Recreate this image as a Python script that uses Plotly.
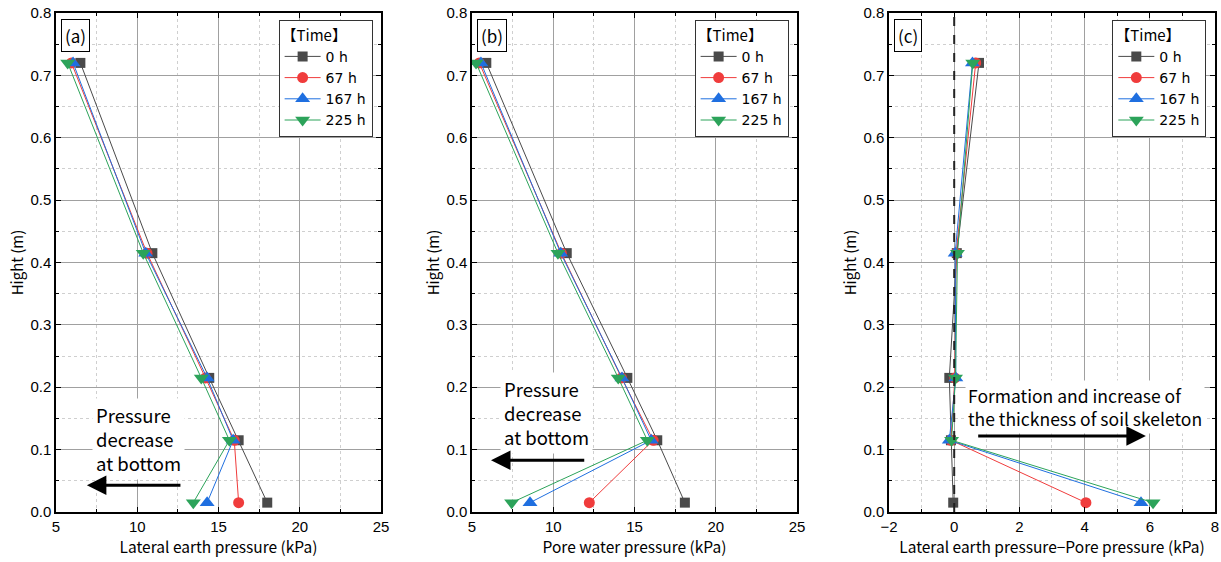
import plotly.graph_objects as go

# Sensor heights (m)
height = [0.72, 0.415, 0.215, 0.115, 0.015]
times = ["0 h", "67 h", "167 h", "225 h"]

# (a) Lateral earth pressure (kPa)
lateral_0h = [6.5, 10.93, 14.43, 16.24, 18.0]
lateral_67h = [5.95, 10.6, 14.2, 15.97, 16.24]
lateral_167h = [6.05, 10.52, 14.3, 15.9, 14.3]
lateral_225h = [5.72, 10.37, 13.94, 15.67, 13.45]

# (b) Pore water pressure (kPa)
pore_0h = [5.88, 10.83, 14.56, 16.4, 18.1]
pore_67h = [5.45, 10.5, 14.2, 16.15, 12.22]
pore_167h = [5.55, 10.46, 14.23, 16.03, 8.57]
pore_225h = [5.25, 10.29, 14.0, 15.79, 7.44]

# (c) Lateral earth pressure minus pore pressure (kPa)
diff_0h = [0.76, 0.08, -0.15, -0.1, -0.03]
diff_67h = [0.66, 0.06, 0.02, -0.1, 4.04]
diff_167h = [0.56, 0.03, 0.05, -0.15, 5.73]
diff_225h = [0.57, 0.1, 0.04, -0.08, 6.1]

colors = ["#4a4a4a", "#f03c3c", "#1f6fe0", "#2ca35a"]
symbols = ["square", "circle", "triangle-up", "triangle-down"]
msizes = [10, 11, 13, 13]

panels = [
    ("x", "y", "legend", [lateral_0h, lateral_67h, lateral_167h, lateral_225h]),
    ("x2", "y2", "legend2", [pore_0h, pore_67h, pore_167h, pore_225h]),
    ("x3", "y3", "legend3", [diff_0h, diff_67h, diff_167h, diff_225h]),
]

TXT = "Noto Sans CJK JP"
NUM = "Liberation Sans"

fig = go.Figure()
for xa, ya, lg, series in panels:
    for name, vals, c, s, ms in zip(times, series, colors, symbols, msizes):
        fig.add_trace(go.Scatter(
            x=vals, y=height, xaxis=xa, yaxis=ya, name=name, legend=lg,
            mode="lines+markers",
            line=dict(color=c, width=1),
            marker=dict(color=c, symbol=s, size=ms),
        ))

domains = [(0.04586, 0.31204), (0.38657, 0.65274), (0.72809, 0.99509)]
xranges = [(5, 25), (5, 25), (-2, 8)]
xdticks = [5, 5, 2]
xtitles = ["Lateral earth pressure (kPa)", "Pore water pressure (kPa)",
           "Lateral earth pressure\u2212Pore pressure (kPa)"]
ydom = (0.08897, 0.97687)

axis_common = dict(
    showline=True, linecolor="black", linewidth=1.5, mirror="ticks",
    ticks="inside", ticklen=5, tickcolor="black", automargin=False,
    showgrid=True, gridcolor="#a0a0a0", gridwidth=1, zeroline=False,
    tickfont=dict(family=NUM, size=15, color="black"),
)

layout = dict(
    width=1221, height=562, margin=dict(l=0, r=0, t=0, b=0),
    plot_bgcolor="white", paper_bgcolor="white", showlegend=True,
)
for i in range(3):
    sx = "" if i == 0 else str(i + 1)
    layout["xaxis" + sx] = dict(
        axis_common, domain=list(domains[i]), range=list(xranges[i]),
        dtick=xdticks[i], anchor="y" + sx,
        minor=dict(dtick=xdticks[i] / 2, showgrid=True, griddash="dot",
                   gridcolor="#cfcfcf", ticks="inside", ticklen=3, tickcolor="black"),
        title=dict(text=xtitles[i], font=dict(family=TXT, size=15.5, color="black"),
                   standoff=8),
    )
    layout["yaxis" + sx] = dict(
        axis_common, domain=list(ydom), range=[0, 0.8], dtick=0.1,
        tickformat=".1f", anchor="x" + sx,
        minor=dict(dtick=0.05, showgrid=True, griddash="dot",
                   gridcolor="#cfcfcf", ticks="inside", ticklen=3, tickcolor="black"),
        title=dict(text="Hight (m)", font=dict(family=TXT, size=15, color="black"),
                   standoff=3),
    )
    lg = "legend" if i == 0 else "legend" + str(i + 1)
    layout[lg] = dict(
        x=domains[i][0] + (domains[i][1] - domains[i][0]) * 0.685,
        y=ydom[1] - 0.013, xanchor="left", yanchor="top",
        bgcolor="white", bordercolor="#333", borderwidth=1,
        title=dict(text="\u3010Time\u3011", font=dict(family=TXT, size=15, color="black")),
        font=dict(family="DejaVu Sans", size=14, color="black"),
        tracegroupgap=0, itemwidth=36,
    )
fig.update_layout(**layout)

# Panel labels
for i, lab in enumerate(["(a)", "(b)", "(c)"]):
    sx = "" if i == 0 else str(i + 1)
    fig.add_annotation(
        xref="x" + sx + " domain", yref="y" + sx + " domain",
        x=0.015, y=0.988, xanchor="left", yanchor="top", showarrow=False,
        text=lab, font=dict(family=TXT, size=17, color="black"),
        bgcolor="white", bordercolor="black", borderwidth=1, borderpad=3,
    )

# Zero reference line in (c)
fig.add_shape(type="line", xref="x3", yref="y3 domain", x0=0, x1=0, y0=0, y1=1,
              line=dict(color="#222", width=2, dash="dash"))

# Explanatory notes
fig.add_annotation(xref="x", yref="y", x=7.2, y=0.117, xanchor="left", yanchor="middle",
                   text="Pressure<br>decrease<br>at bottom", align="left",
                   showarrow=False, font=dict(family=TXT, size=18.5, color="black"),
                   bgcolor="white", borderpad=3)
fig.add_annotation(xref="x2", yref="y2", x=6.72, y=0.159, xanchor="left", yanchor="middle",
                   text="Pressure<br>decrease<br>at bottom", align="left",
                   showarrow=False, font=dict(family=TXT, size=18.5, color="black"),
                   bgcolor="white", borderpad=3)
fig.add_annotation(xref="x3", yref="y3", x=0.33, y=0.168, xanchor="left", yanchor="middle",
                   text="Formation and increase of<br>the thickness of soil skeleton",
                   align="left", showarrow=False, font=dict(family=TXT, size=17.5, color="black"),
                   bgcolor="white", borderpad=2)

arrows = [("x", "y", 12.75, 6.9, 0.043), ("x2", "y2", 12.0, 6.17, 0.083),
          ("x3", "y3", 0.69, 5.88, 0.122)]
for xa, ya, x0, x1, yy in arrows:
    fig.add_annotation(xref=xa, yref=ya, axref=xa, ayref=ya, x=x1, y=yy, ax=x0, ay=yy,
                       text="", showarrow=True, arrowhead=2, arrowsize=1.3,
                       arrowwidth=3, arrowcolor="black")

fig.write_html("out.html")
